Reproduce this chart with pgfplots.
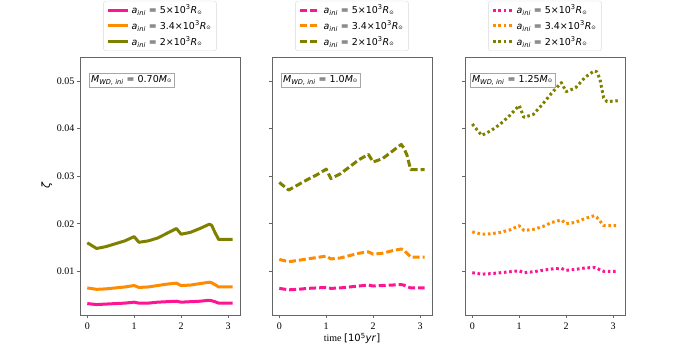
\documentclass[border=0pt]{standalone}
\usepackage{fontspec}
\usepackage{pgfplots}
\usepackage{pgfplotstable}
\pgfplotsset{compat=1.18}
\setmainfont{Liberation Serif}
\newfontfamily\djs{DejaVu Sans}

\definecolor{cpink}{RGB}{255,20,147}
\definecolor{corange}{RGB}{255,140,0}
\definecolor{colive}{RGB}{128,128,0}

\newcommand{\ai}{\textit{a}\textsubscript{\textit{ini}}}
\newcommand{\Rs}{\textit{R}\textsubscript{\raisebox{0.3ex}{\scalebox{0.8}{⊙}}}}
\newcommand{\Ms}{\textit{M}\textsubscript{\raisebox{0.3ex}{\scalebox{0.8}{⊙}}}}

% zeta vs time, columns: g/o/p = olive/orange/pink, 1..3 = panel
\pgfplotstableread{
x    g1     o1     p1     g2     o2     p2     g3     o3     p3
0.00 0.0160 0.0065 0.0032 0.0287 0.0125 0.0064 0.0410 0.0183 0.0097
0.20 0.0148 0.0062 0.0030 0.0271 0.0120 0.0061 0.0386 0.0178 0.0094
0.40 0.0152 0.0063 0.0031 0.0282 0.0123 0.0062 0.0396 0.0179 0.0095
0.60 0.0158 0.0065 0.0032 0.0293 0.0126 0.0064 0.0410 0.0182 0.0097
0.80 0.0164 0.0067 0.0033 0.0303 0.0129 0.0065 0.0428 0.0187 0.0099
1.00 0.0173 0.0070 0.0035 0.0315 0.0132 0.0066 0.0449 0.0196 0.0101
1.10 0.0161 0.0066 0.0033 0.0295 0.0126 0.0064 0.0424 0.0186 0.0097
1.30 0.0164 0.0067 0.0033 0.0305 0.0128 0.0065 0.0430 0.0188 0.0099
1.50 0.0170 0.0070 0.0035 0.0320 0.0133 0.0067 0.0452 0.0194 0.0102
1.70 0.0180 0.0073 0.0036 0.0335 0.0138 0.0069 0.0476 0.0203 0.0105
1.90 0.0190 0.0075 0.0037 0.0346 0.0141 0.0071 0.0497 0.0208 0.0106
2.00 0.0178 0.0070 0.0035 0.0330 0.0136 0.0069 0.0478 0.0200 0.0102
2.20 0.0182 0.0071 0.0036 0.0337 0.0138 0.0070 0.0486 0.0203 0.0104
2.40 0.0190 0.0074 0.0037 0.0352 0.0143 0.0071 0.0508 0.0211 0.0107
2.60 0.0199 0.0077 0.0039 0.0367 0.0147 0.0072 0.0522 0.0217 0.0108
2.65 0.0197 0.0076 0.0038 0.0360 0.0145 0.0071 0.0520 0.0214 0.0107
2.72 0.0182 0.0072 0.0036 0.0345 0.0138 0.0068 0.0505 0.0206 0.0103
2.80 0.0167 0.0067 0.0033 0.0314 0.0130 0.0065 0.0465 0.0196 0.0100
2.87 0.0167 0.0067 0.0033 0.0314 0.0130 0.0065 0.0457 0.0196 0.0100
3.10 0.0167 0.0067 0.0033 0.0314 0.0130 0.0065 0.0459 0.0196 0.0100
}\zdata

\pgfplotsset{
  panel/.style={
    width=160pt, height=258pt, scale only axis,
    xmin=-0.155, xmax=3.255, ymin=0.0008, ymax=0.0551,
    xtick={0,1,2,3}, ytick={0.01,0.02,0.03,0.04,0.05},
    scaled y ticks=false,
    yticklabel style={/pgf/number format/fixed,
      /pgf/number format/precision=2, /pgf/number format/zerofill},
    /pgf/number format/assume math mode=true,
    tick label style={font=\rmfamily\fontsize{10}{12}\selectfont},
    xtick pos=bottom, ytick pos=left, tick align=outside,
    major tick length=3pt,
    axis line style={black!60},
    tick style={black!60, line width=0.7pt},
    xticklabel style={yshift=-1pt},
    yticklabel style={xshift=1pt},
    legend style={at={(0.5,1)}, yshift=6pt, anchor=south,
      draw=black!15, rounded corners=2pt, inner xsep=3pt, inner ysep=2pt,
      font=\djs\fontsize{9.5}{11.5}\selectfont,
      row sep=1.5pt},
    legend cell align=left,
    legend image code/.code={\draw[##1] (0pt,0pt) -- (20pt,0pt);},
    every axis plot/.append style={line width=3pt, line join=round},
  },
  sdash/.style={dash pattern=on 7pt off 3pt, line cap=butt},
  sdot/.style={dash pattern=on 2.6pt off 2.7pt, line cap=butt},
}

\newcommand{\mlabel}[2]{\node[draw=black!35, fill=white, inner sep=2pt,
  anchor=north west, font=\djs\fontsize{9.5}{11}\selectfont]
  at (rel axis cs:#1,0.938) {\textit{M}\textsubscript{\textit{WD, ini}} = #2\Ms};}

\begin{document}
\begin{tikzpicture}
\path[use as bounding box] (0pt,0pt) rectangle (688pt,345pt);

\begin{axis}[panel, at={(80pt,30pt)}, anchor=south west,
  ylabel={\djs\itshape ζ}, ylabel style={font=\fontsize{11}{12}\selectfont, yshift=-2pt}]
\addplot[cpink] table[x=x, y=p1] {\zdata};
\addlegendentry{\ai{} = 5×10\textsuperscript{3}\Rs}
\addplot[corange] table[x=x, y=o1] {\zdata};
\addlegendentry{\ai{} = 3.4×10\textsuperscript{3}\Rs}
\addplot[colive] table[x=x, y=g1] {\zdata};
\addlegendentry{\ai{} = 2×10\textsuperscript{3}\Rs}
\mlabel{0.056}{0.70}
\end{axis}

\begin{axis}[panel, at={(272pt,30pt)}, anchor=south west, yticklabels={},
  xlabel={{\rmfamily time} {\djs[10\textsuperscript{5}\textit{yr}]}},
  xlabel style={font=\fontsize{10}{12}\selectfont, yshift=3pt}]
\addplot[cpink, sdash] table[x=x, y=p2] {\zdata};
\addlegendentry{\ai{} = 5×10\textsuperscript{3}\Rs}
\addplot[corange, sdash] table[x=x, y=o2] {\zdata};
\addlegendentry{\ai{} = 3.4×10\textsuperscript{3}\Rs}
\addplot[colive, sdash] table[x=x, y=g2] {\zdata};
\addlegendentry{\ai{} = 2×10\textsuperscript{3}\Rs}
\mlabel{0.056}{1.0}
\end{axis}

\begin{axis}[panel, at={(465pt,30pt)}, anchor=south west, yticklabels={}]
\addplot[cpink, sdot] table[x=x, y=p3] {\zdata};
\addlegendentry{\ai{} = 5×10\textsuperscript{3}\Rs}
\addplot[corange, sdot] table[x=x, y=o3] {\zdata};
\addlegendentry{\ai{} = 3.4×10\textsuperscript{3}\Rs}
\addplot[colive, sdot] table[x=x, y=g3] {\zdata};
\addlegendentry{\ai{} = 2×10\textsuperscript{3}\Rs}
\mlabel{0.03}{1.25}
\end{axis}
\end{tikzpicture}
\end{document}
